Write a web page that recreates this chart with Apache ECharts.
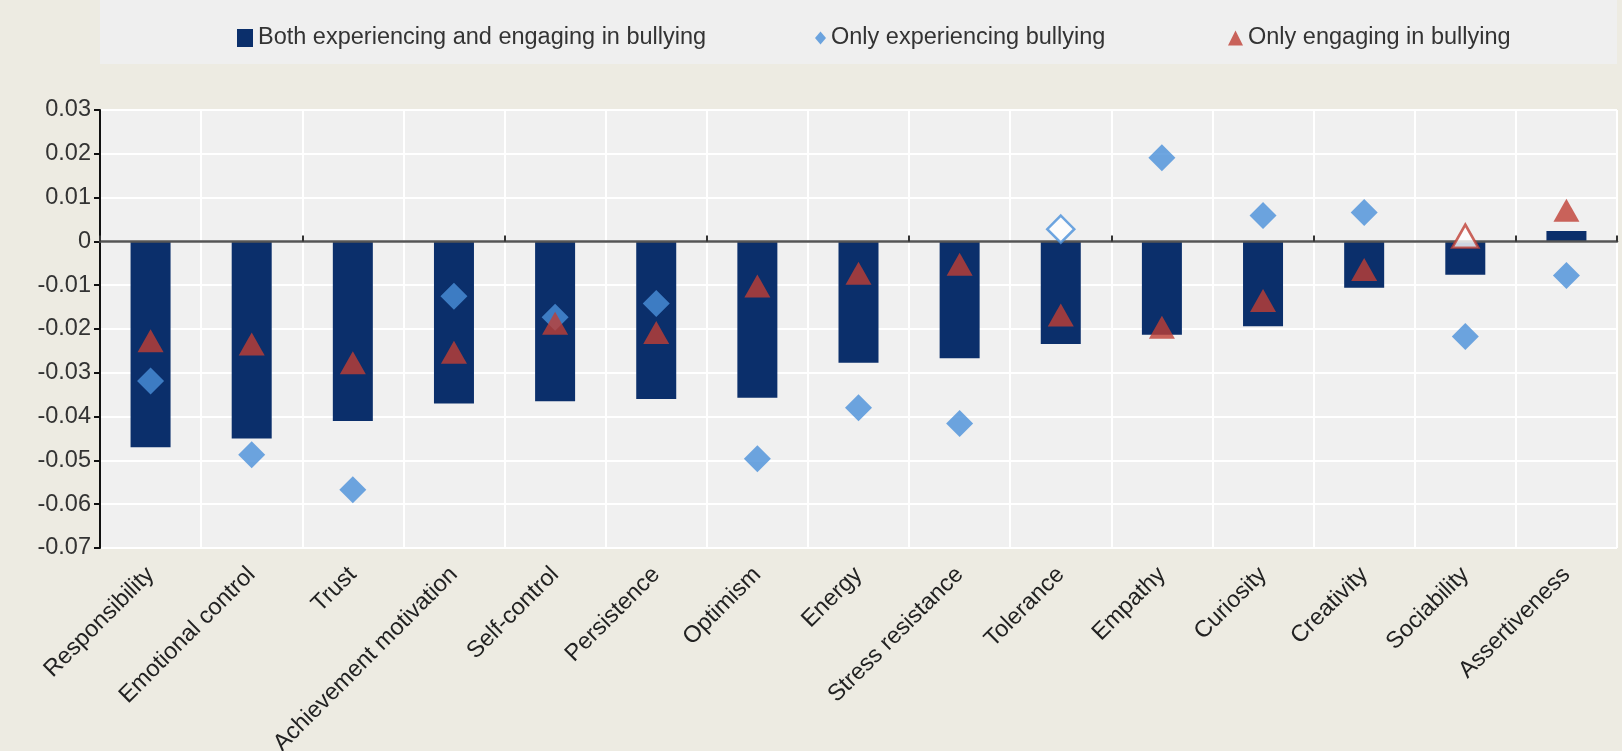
<!DOCTYPE html>
<html>
<head>
<meta charset="utf-8">
<script src="https://cdn.jsdelivr.net/npm/echarts@6/dist/echarts.min.js"></script>
<style>
html,body{margin:0;padding:0;background:#edebe2;}
#chart{width:1622px;height:751px;}
</style>
</head>
<body>
<div id="chart"></div>
<script>
const categories = ["Responsibility","Emotional control","Trust","Achievement motivation","Self-control","Persistence","Optimism","Energy","Stress resistance","Tolerance","Empathy","Curiosity","Creativity","Sociability","Assertiveness"];
const seriesNames = ["Both experiencing and engaging in bullying","Only experiencing bullying","Only engaging in bullying"];
const bothValues = [-0.047,-0.045,-0.041,-0.037,-0.0365,-0.036,-0.0357,-0.0277,-0.0267,-0.0234,-0.0213,-0.0194,-0.0106,-0.0076,0.0024];
const onlyExperiencingValues = [-0.0319,-0.0487,-0.0567,-0.0125,-0.0173,-0.0142,-0.0496,-0.038,-0.0416,0.0028,0.0191,0.0059,0.0066,-0.0217,-0.0078];
const onlyEngagingValues = [-0.0227,-0.0234,-0.0277,-0.0253,-0.0187,-0.0208,-0.0102,-0.0073,-0.0052,-0.0168,-0.0196,-0.0135,-0.0064,0.0012,0.0071];
const onlyExperiencingSignificant = [true,true,true,true,true,true,true,true,true,false,true,true,true,true,true];
const onlyEngagingSignificant = [true,true,true,true,true,true,true,true,true,true,true,true,true,false,true];
const yMin = -0.07, yMax = 0.03, yStep = 0.01;

const NAVY = '#0b2f6b', BLUE = '#4a90d9', RED = '#bf3f34';
const FONT = '"Liberation Sans", Arial, sans-serif';

function markerData(values, sig, color) {
  return values.map((v, i) => sig[i] ? v : {
    value: v,
    itemStyle: { color: '#ffffff', borderColor: color, borderWidth: 2.5 }
  });
}

const chart = echarts.init(document.getElementById('chart'));
const legendText = { fontFamily: FONT, fontSize: 23.5, color: '#333' };
chart.setOption({
  backgroundColor: '#edebe2',
  animation: false,
  graphic: [{
    type: 'rect', left: 100, top: 0, z: -1,
    shape: { width: 1517, height: 64 },
    style: { fill: '#efefef' }
  }],
  legend: [
    { data: [{ name: seriesNames[0], icon: 'rect' }], left: 237, top: 26, padding: 0, itemWidth: 16, itemHeight: 18, itemGap: 0, textStyle: legendText },
    { data: [{ name: seriesNames[1], icon: 'diamond' }], left: 815, top: 26, padding: 0, itemWidth: 11, itemHeight: 13, itemGap: 0, textStyle: legendText },
    { data: [{ name: seriesNames[2], icon: 'triangle' }], left: 1228, top: 26, padding: 0, itemWidth: 15, itemHeight: 15, itemGap: 0, textStyle: legendText }
  ],
  grid: { left: 100, right: 5, top: 110, bottom: 203, show: true, backgroundColor: '#f0f0f0', borderWidth: 0, containLabel: false, outerBoundsMode: 'none' },
  xAxis: [
    {
      type: 'category', data: categories, position: 'bottom',
      axisLine: { show: false, onZero: false }, axisTick: { show: false },
      splitLine: { show: true, lineStyle: { color: '#ffffff', width: 2 } },
      axisLabel: { interval: 0, rotate: 45, margin: 23, fontFamily: FONT, fontSize: 23.5, color: '#222' }
    },
    {
      type: 'category', data: categories, position: 'bottom', z: 10,
      axisLine: { show: true, onZero: true, lineStyle: { color: '#555', width: 2.5 } },
      axisTick: { show: true, inside: true, length: 6, lineStyle: { color: '#333', width: 2 } },
      axisLabel: { show: false }, splitLine: { show: false }
    }
  ],
  yAxis: {
    type: 'value', min: yMin, max: yMax, interval: yStep,
    axisLine: { show: true, lineStyle: { color: '#111', width: 2 } },
    axisTick: { show: true, length: 6, lineStyle: { color: '#111', width: 2 } },
    splitLine: { show: true, lineStyle: { color: '#ffffff', width: 2 } },
    axisLabel: { margin: 9, fontFamily: FONT, fontSize: 23.5, color: '#333',
      formatter: v => String(+v.toFixed(2)) }
  },
  series: [
    { name: seriesNames[0], type: 'bar', data: bothValues, barWidth: 40, itemStyle: { color: NAVY } },
    { name: seriesNames[1], type: 'scatter', data: markerData(onlyExperiencingValues, onlyExperiencingSignificant, BLUE),
      symbol: 'diamond', symbolSize: [27, 27], itemStyle: { color: BLUE }, z: 12 },
    { name: seriesNames[2], type: 'scatter', data: markerData(onlyEngagingValues, onlyEngagingSignificant, RED),
      symbol: 'triangle', symbolSize: [26, 23], itemStyle: { color: RED }, z: 13 }
  ]
});
</script>
</body>
</html>
